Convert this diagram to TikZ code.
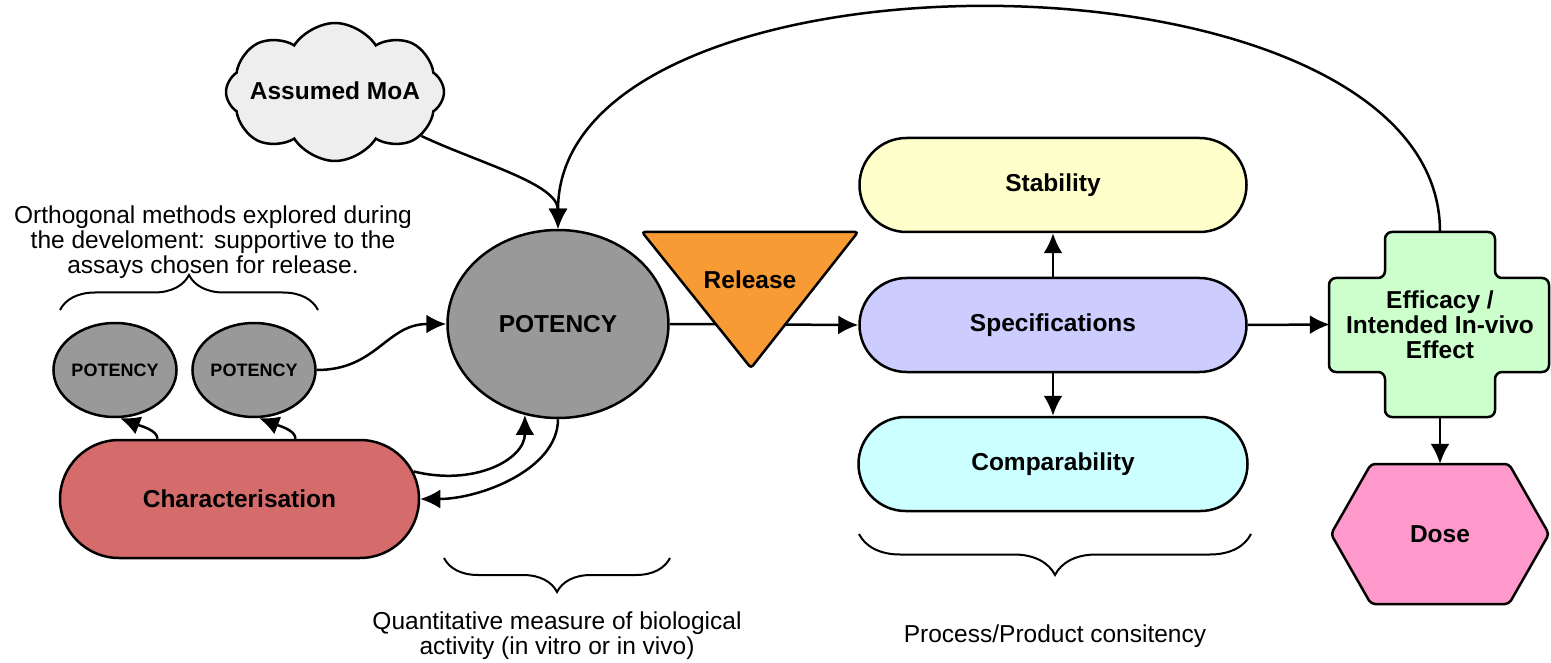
\documentclass[tikz,border=0pt]{standalone}
\usepackage{fontspec}
\setmainfont{Liberation Sans}
\usetikzlibrary{shapes.misc,shapes.symbols,shapes.geometric,arrows.meta,decorations.pathreplacing,calc}
\definecolor{cloudgray}{HTML}{EEEEEE}
\definecolor{potgray}{HTML}{999999}
\definecolor{charred}{HTML}{D46C6C}
\definecolor{relorange}{HTML}{F99B34}
\definecolor{stabyellow}{HTML}{FFFFCC}
\definecolor{specblue}{HTML}{CCCCFF}
\definecolor{compcyan}{HTML}{CCFFFF}
\definecolor{effgreen}{HTML}{CCFFCC}
\definecolor{dosepink}{HTML}{FF99CC}
\begin{document}
\begin{tikzpicture}[x=1pt,y=-1pt,
  lw/.style={line width=2.5pt},
  arr/.style={lw, -{Latex[length=20pt,width=19pt]}},
  lbl/.style={font=\fontsize{24.5}{25}\selectfont\bfseries, text=black, align=center},
  note/.style={font=\fontsize{24.5}{25}\selectfont, align=center, inner sep=0pt},
  pill/.style={rounded rectangle, draw, lw, lbl, inner sep=0pt},
  circ/.style={ellipse, draw, lw, fill=potgray, inner sep=0pt},
  bracestyle/.style={line width=2pt, decorate},
]
\useasboundingbox (0,0) rectangle (1551,663);

% nodes
\node[cloud, cloud puffs=8, cloud puff arc=115, draw, lw, fill=cloudgray,
      minimum width=218pt, minimum height=138pt, lbl, inner sep=0pt] (cloud) at (335,92)
      {\makebox[0pt]{\smash{\raisebox{-8pt}{Assumed MoA}}}};

\node[note] (ortho) at (213,242) {Orthogonal methods explored during\\the develoment: supportive to the\\assays chosen for release.};

\node[circ, minimum width=114pt, minimum height=94pt, font=\fontsize{18}{20}\selectfont\bfseries] (p1) at (115,370) {POTENCY};
\node[circ, minimum width=111pt, minimum height=94pt, font=\fontsize{18}{20}\selectfont\bfseries] (p2) at (254,370) {POTENCY};
\node[circ, minimum width=221pt, minimum height=188pt, lbl] (pot) at (558,324) {POTENCY};

\node[pill, fill=charred, minimum width=359pt, minimum height=118pt] (char) at (239.5,499) {Characterisation};

\node[pill, fill=stabyellow, minimum width=387pt, minimum height=94pt] (stab) at (1053,185) {Stability};
\node[pill, fill=specblue, minimum width=387pt, minimum height=94pt] (spec) at (1053,325) {Specifications};
\node[pill, fill=compcyan, minimum width=389pt, minimum height=94pt] (comp) at (1053,464) {Comparability};

% efficacy cross
\draw[lw, fill=effgreen, rounded corners=7pt]
  (1385,232) -- (1495,232) -- (1495,278) -- (1549,278) -- (1549,372) -- (1495,372) --
  (1495,417) -- (1385,417) -- (1385,372) -- (1329,372) -- (1329,278) -- (1385,278) -- cycle;
\node[lbl, minimum width=220pt, minimum height=185pt, inner sep=0pt] (eff) at (1440,324.5) {Efficacy /\\Intended In-vivo\\Effect};

% dose hexagon
\draw[lw, fill=dosepink, rounded corners=4pt]
  (1331,534) -- (1371,464) -- (1509,464) -- (1549,534) -- (1509,604) -- (1371,604) -- cycle;
\node[lbl, minimum width=218pt, minimum height=140pt, inner sep=0pt] (dose) at (1440,534) {Dose};

% connectors
\draw[arr] (pot.east) -- (spec.west);

% release triangle on top of line
\draw[lw, fill=relorange, rounded corners=3pt] (642,232) -- (858,232) -- (751,368) -- cycle;
\node[lbl, inner sep=0pt] (rel) at (750,280) {Release};

\draw[arr] (cloud.-27) .. controls +(60,28) and +(0,-45) .. (pot.north);
\draw[arr] (eff.north) .. controls +(0,-296) and +(0,-296) .. (pot.north);
\draw[arr] (p2.east) .. controls +(60,0) and +(-60,0) .. (pot.west);
\draw[arr] ([xshift=-82pt]char.north) .. controls +(0,-9) and +(18,7) .. (p1.-84);
\draw[arr] ([xshift=56pt]char.north) .. controls +(0,-9) and +(18,7) .. (p2.-84);
\draw[arr] (char.9) .. controls +(60,15) and +(0,45) .. (pot.-110);
\draw[arr] (pot.south) .. controls +(0,50) and +(60,0) .. (char.east);
\draw[arr] (spec.north) -- (stab.south);
\draw[arr] (spec.south) -- (comp.north);
\draw[arr] (spec.east) -- (eff.west);
\draw[arr] (eff.south) -- (dose.north);

% braces and notes
\draw[bracestyle, decoration={brace, amplitude=35pt}] (60,310) -- (318,310);
\draw[bracestyle, decoration={brace, amplitude=34pt}] (670,558) -- (444,558);
\draw[bracestyle, decoration={brace, amplitude=41pt}] (1251,534) -- (859,534);

\node[note] (quant) at (557,636) {Quantitative measure of biological\\activity (in vitro or in vivo)};
\node[note] (proc) at (1055,636) {Process/Product consitency};
\end{tikzpicture}
\end{document}
